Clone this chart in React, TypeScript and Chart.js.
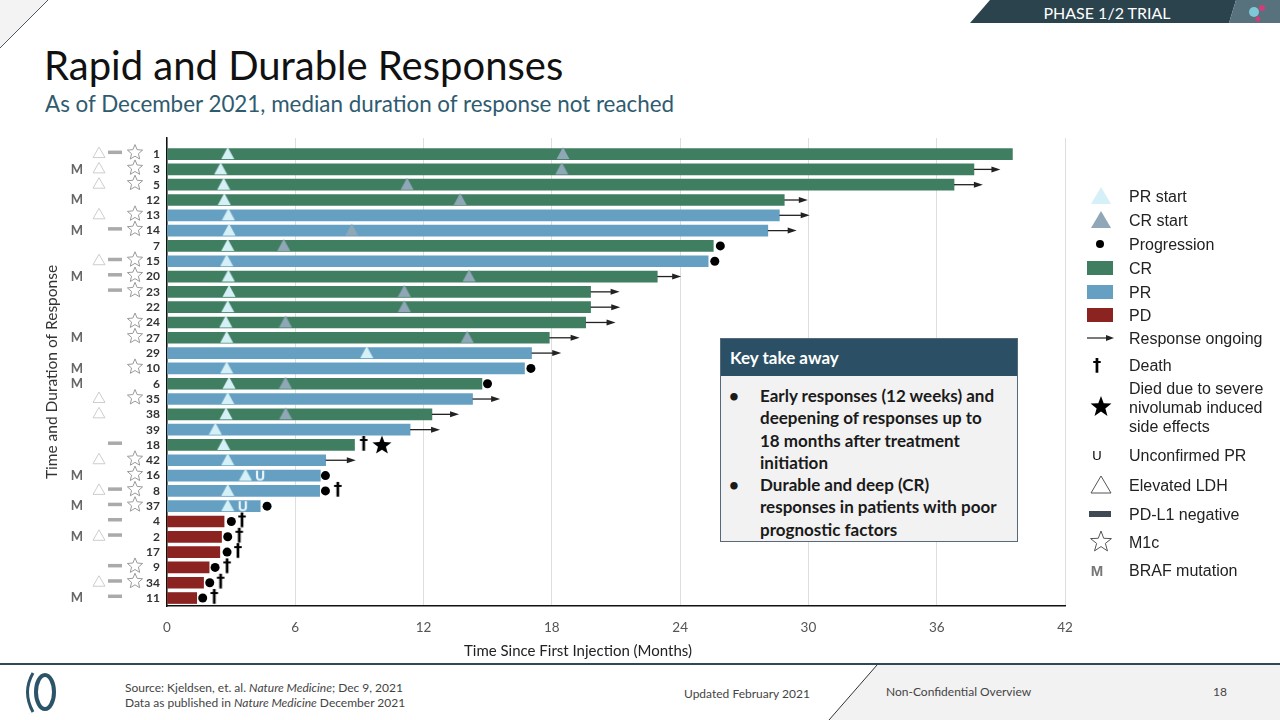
import React, { useEffect, useRef } from 'react';
import { Chart, registerables } from 'chart.js';

Chart.register(...registerables);

// ---------- data ----------
const patients = ['1', '3', '5', '12', '13', '14', '7', '15', '20', '23', '22', '24', '27', '29', '10', '6', '35', '38', '39', '18', '42', '16', '8', '37', '4', '2', '17', '9', '34', '11'];
const responseType = ['CR', 'CR', 'CR', 'CR', 'PR', 'PR', 'CR', 'PR', 'CR', 'CR', 'CR', 'CR', 'CR', 'PR', 'PR', 'CR', 'PR', 'CR', 'PR', 'CR', 'PR', 'PR', 'PR', 'PR', 'PD', 'PD', 'PD', 'PD', 'PD', 'PD'];
const duration = [39.54, 37.74, 36.81, 28.87, 28.64, 28.1, 25.55, 25.31, 22.93, 19.81, 19.81, 19.58, 17.88, 17.05, 16.72, 14.73, 14.29, 12.39, 11.37, 8.77, 7.42, 7.17, 7.14, 4.36, 2.67, 2.55, 2.47, 1.97, 1.71, 1.39];
const prStart = [2.84, 2.51, 2.65, 2.68, 2.87, 2.9, 2.84, 2.79, 2.87, 2.9, 2.84, 2.75, 2.79, 9.34, 2.79, 2.9, 2.84, 2.76, 2.26, 2.65, 2.84, 3.67, 2.84, 2.84, null, null, null, null, null, null];
const crStart = [18.52, 18.46, 11.23, 13.71, null, 8.64, 5.46, null, 14.13, 11.1, 11.1, 5.54, 14.04, null, null, 5.54, null, 5.55, null, null, null, null, null, null, null, null, null, null, null, null];
const progression = [null, null, null, null, null, null, 25.88, 25.62, null, null, null, null, null, null, 17.02, 14.99, null, null, null, null, null, 7.41, 7.41, 4.68, 3.01, 2.84, 2.81, 2.25, 2.0, 1.67];
const death = [null, null, null, null, null, null, null, null, null, null, null, null, null, null, null, null, null, null, null, 9.2, null, null, 7.99, null, 3.51, 3.38, 3.32, 2.81, 2.51, 2.21];
const sideEffectDeath = [null, null, null, null, null, null, null, null, null, null, null, null, null, null, null, null, null, null, null, 10.05, null, null, null, null, null, null, null, null, null, null];
const unconfirmedPR = [null, null, null, null, null, null, null, null, null, null, null, null, null, null, null, null, null, null, null, null, null, 4.35, null, 3.54, null, null, null, null, null, null];
const ongoingUntil = [null, 38.98, 38.16, 29.97, 30.06, 29.45, null, null, 24.05, 21.17, 21.2, 20.98, 19.3, 18.44, null, null, 15.58, 13.66, 12.77, null, 8.83, null, null, null, null, null, null, null, null, null];
const brafMutation = [0, 1, 0, 1, 0, 1, 0, 0, 1, 0, 0, 0, 1, 0, 1, 1, 0, 0, 0, 0, 0, 1, 0, 1, 0, 1, 0, 0, 0, 1];
const elevatedLDH = [1, 1, 1, 0, 1, 0, 0, 1, 0, 0, 0, 0, 0, 0, 0, 0, 1, 1, 0, 0, 1, 0, 1, 0, 0, 1, 0, 0, 1, 0];
const pdl1Negative = [1, 0, 0, 0, 0, 1, 0, 1, 1, 1, 0, 0, 0, 0, 0, 0, 0, 0, 0, 1, 0, 0, 1, 1, 1, 1, 0, 1, 1, 1];
const m1c = [1, 1, 1, 0, 1, 1, 0, 1, 1, 1, 0, 1, 1, 0, 1, 0, 1, 0, 0, 0, 1, 1, 1, 1, 0, 0, 0, 1, 1, 0];
const xTicks = [0, 6, 12, 18, 24, 30, 36, 42];

const typeColor: Record<string, string> = { CR: '#407e62', PR: '#65a0c3', PD: '#8b2420' };
const PR_TRI = '#d5f1f7';
const CR_TRI = '#8fa7b6';

const pts = (arr: (number | null)[]) =>
  arr.flatMap((v, i) => (v == null ? [] : [{ x: v, y: i }]));

function mk(w: number, h: number, draw: (g: CanvasRenderingContext2D) => void) {
  const c = document.createElement('canvas');
  c.width = w;
  c.height = h;
  const g = c.getContext('2d')!;
  draw(g);
  return c;
}

function starPath(g: CanvasRenderingContext2D, cx: number, cy: number, ro: number, ri: number) {
  g.beginPath();
  for (let k = 0; k < 10; k++) {
    const r = k % 2 === 0 ? ro : ri;
    const a = -Math.PI / 2 + (k * Math.PI) / 5;
    const px = cx + r * Math.cos(a);
    const py = cy + r * Math.sin(a);
    if (k === 0) g.moveTo(px, py);
    else g.lineTo(px, py);
  }
  g.closePath();
}

const annotationPlugin = {
  id: 'rowAnnotations',
  afterDraw(chart: any) {
    const { ctx, chartArea, scales } = chart;
    const x = scales.x;
    const y = scales.y;
    const left = chartArea.left;
    ctx.save();
    patients.forEach((_, i) => {
      const py = y.getPixelForValue(i);
      if (brafMutation[i]) {
        ctx.fillStyle = '#666';
        ctx.font = 'bold 13px Lato';
        ctx.textAlign = 'center';
        ctx.textBaseline = 'middle';
        ctx.fillText('M', left - 90, py);
      }
      if (elevatedLDH[i]) {
        const cx = left - 68;
        ctx.strokeStyle = '#cdcdcd';
        ctx.lineWidth = 1;
        ctx.beginPath();
        ctx.moveTo(cx, py - 7);
        ctx.lineTo(cx + 6, py + 3.5);
        ctx.lineTo(cx - 6, py + 3.5);
        ctx.closePath();
        ctx.stroke();
      }
      if (pdl1Negative[i]) {
        ctx.fillStyle = '#aaaaaa';
        ctx.fillRect(left - 59, py - 3.5, 14, 3.5);
      }
      if (m1c[i]) {
        ctx.strokeStyle = '#9a9a9a';
        ctx.lineWidth = 1;
        starPath(ctx, left - 32, py - 1.5, 8, 3.6);
        ctx.stroke();
      }
    });
    // response ongoing arrows
    ctx.strokeStyle = '#222';
    ctx.fillStyle = '#222';
    ctx.lineWidth = 1.3;
    ongoingUntil.forEach((end, i) => {
      if (end == null) return;
      const py = y.getPixelForValue(i);
      const x0 = x.getPixelForValue(duration[i]);
      const x1 = x.getPixelForValue(end);
      ctx.beginPath();
      ctx.moveTo(x0, py);
      ctx.lineTo(x1 - 4, py);
      ctx.stroke();
      ctx.beginPath();
      ctx.moveTo(x1, py);
      ctx.lineTo(x1 - 9, py - 3);
      ctx.lineTo(x1 - 9, py + 3);
      ctx.closePath();
      ctx.fill();
    });
    ctx.restore();
  },
};

function Tri({ fill, stroke }: { fill: string; stroke?: string }) {
  return (
    <svg width={30} height={22}>
      <polygon points="15,2 25,19 5,19" fill={fill} stroke={stroke || 'none'} strokeWidth={1} />
    </svg>
  );
}

function StarIcon({ filled }: { filled: boolean }) {
  const p: string[] = [];
  for (let k = 0; k < 10; k++) {
    const r = k % 2 === 0 ? 11 : 4.6;
    const a = -Math.PI / 2 + (k * Math.PI) / 5;
    p.push(`${(15 + r * Math.cos(a)).toFixed(2)},${(12 + r * Math.sin(a)).toFixed(2)}`);
  }
  return (
    <svg width={30} height={24}>
      <polygon points={p.join(' ')} fill={filled ? '#000' : 'none'} stroke={filled ? 'none' : '#555'} strokeWidth={1} />
    </svg>
  );
}

const legendRows: { y: number; icon: React.ReactNode; text: React.ReactNode }[] = [
  { y: 196, icon: <Tri fill={PR_TRI} />, text: 'PR start' },
  { y: 220, icon: <Tri fill={CR_TRI} />, text: 'CR start' },
  { y: 244, icon: <svg width={30} height={20}><circle cx={14} cy={10} r={4} fill="#000" /></svg>, text: 'Progression' },
  { y: 268, icon: <svg width={30} height={20}><rect x={1} y={3} width={26} height={14} fill={typeColor.CR} /></svg>, text: 'CR' },
  { y: 292, icon: <svg width={30} height={20}><rect x={1} y={3} width={26} height={14} fill={typeColor.PR} /></svg>, text: 'PR' },
  { y: 315, icon: <svg width={30} height={20}><rect x={1} y={3} width={26} height={14} fill={typeColor.PD} /></svg>, text: 'PD' },
  { y: 338, icon: <svg width={30} height={20}><line x1={1} y1={10} x2={22} y2={10} stroke="#222" strokeWidth={1.2} /><polygon points="28,10 20,7 20,13" fill="#222" /></svg>, text: 'Response ongoing' },
  { y: 365, icon: <div style={{ width: 30, textAlign: 'center', fontWeight: 700, fontSize: 17, fontFamily: 'DejaVu Sans', color: '#000', marginLeft: -4 }}>†</div>, text: 'Death' },
  { y: 407, icon: <StarIcon filled />, text: <span>Died due to severe<br />nivolumab induced<br />side effects</span> },
  { y: 455, icon: <div style={{ width: 30, textAlign: 'center', fontSize: 13, fontFamily: '"Liberation Sans"', color: '#000', marginLeft: -4 }}>U</div>, text: 'Unconfirmed PR' },
  { y: 485, icon: <Tri fill="none" stroke="#555" />, text: 'Elevated LDH' },
  { y: 514, icon: <svg width={30} height={20}><rect x={3} y={7} width={22} height={6} fill="#3f4a55" /></svg>, text: 'PD-L1 negative' },
  { y: 542, icon: <StarIcon filled={false} />, text: 'M1c' },
  { y: 570, icon: <div style={{ width: 30, textAlign: 'center', fontSize: 15, fontWeight: 700, fontFamily: '"Liberation Sans"', color: '#777', marginLeft: -4 }}>M</div>, text: 'BRAF mutation' },
];

export default function App() {
  const ref = useRef<HTMLCanvasElement>(null);

  useEffect(() => {
    const canvas = ref.current;
    if (!canvas) return;
    const triangle = (fill: string) =>
      mk(14, 24, (g) => {
        g.fillStyle = fill;
        g.beginPath();
        g.moveTo(7, 5);
        g.lineTo(13.5, 17);
        g.lineTo(0.5, 17);
        g.closePath();
        g.fill();
      });
    const prTri = triangle(PR_TRI);
    const crTri = triangle(CR_TRI);
    const dagger = mk(14, 24, (g) => {
      g.fillStyle = '#000';
      g.font = 'bold 17px "DejaVu Sans"';
      g.textAlign = 'center';
      g.textBaseline = 'middle';
      g.fillText('†', 7, 12);
    });
    const blackStar = mk(24, 24, (g) => {
      g.fillStyle = '#000';
      starPath(g, 12, 12.5, 10, 4.2);
      g.fill();
    });
    const uMark = mk(14, 18, (g) => {
      g.fillStyle = '#e9f6fa';
      g.font = 'bold 14px "Open Sans"';
      g.textAlign = 'center';
      g.textBaseline = 'middle';
      g.fillText('U', 7, 10);
    });

    const chart = new Chart(canvas, {
      type: 'bar',
      data: {
        datasets: [
          {
            type: 'bar',
            label: 'Duration',
            indexAxis: 'y',
            data: duration.map((d, i) => ({ x: d, y: i })),
            backgroundColor: responseType.map((t) => typeColor[t]),
            barThickness: 11,
            order: 2,
          } as any,
          { type: 'scatter', label: 'PR start', data: pts(prStart), pointStyle: prTri, pointRadius: 6, order: 1 } as any,
          { type: 'scatter', label: 'CR start', data: pts(crStart), pointStyle: crTri, pointRadius: 6, order: 1 } as any,
          { type: 'scatter', label: 'Unconfirmed PR', data: pts(unconfirmedPR), pointStyle: uMark, pointRadius: 6, order: 0 } as any,
          { type: 'scatter', label: 'Progression', data: pts(progression), pointStyle: 'circle', pointRadius: 4.5, backgroundColor: '#000', borderColor: '#000', borderWidth: 0, order: 0 } as any,
          { type: 'scatter', label: 'Death', data: pts(death), pointStyle: dagger, pointRadius: 6, order: 0 } as any,
          { type: 'scatter', label: 'Died due to severe nivolumab induced side effects', data: pts(sideEffectDeath), pointStyle: blackStar, pointRadius: 8, order: 0 } as any,
        ],
      },
      options: {
        animation: false,
        responsive: false,
        layout: { padding: { top: 20, right: 22, bottom: 18, left: 0 } },
        plugins: { legend: { display: false }, tooltip: { enabled: false } },
        scales: {
          x: {
            type: 'linear',
            offset: false,
            min: 0,
            max: 42,
            afterBuildTicks: (s: any) => {
              s.ticks = xTicks.map((v) => ({ value: v }));
            },
            afterFit: (s: any) => {
              s.height = 34;
            },
            ticks: { color: '#555', font: { family: 'Lato', size: 13.5 }, padding: 14 },
            grid: { color: '#dedede', drawTicks: false, offset: false },
            border: { display: true, color: '#111', width: 1.5 },
          },
          y: {
            type: 'linear',
            offset: false,
            reverse: true,
            min: -1.05,
            max: 29.52,
            afterBuildTicks: (s: any) => {
              s.ticks = patients.map((_, i) => ({ value: i }));
            },
            afterFit: (s: any) => {
              s.width = 129;
            },
            ticks: {
              autoSkip: false,
              callback: (v: any) => patients[v as number] ?? '',
              color: '#333',
              font: { family: 'Lato', size: 12, weight: 'bold' },
              padding: 7,
            },
            grid: { display: false, drawTicks: false, offset: false },
            border: { display: true, color: '#111', width: 1.5 },
            title: {
              display: true,
              text: 'Time and Duration of Response',
              color: '#333',
              font: { family: 'Lato', size: 15.5 },
              padding: { top: 5, bottom: 0 },
            },
          },
        },
      } as any,
      plugins: [annotationPlugin as any],
    });
    return () => chart.destroy();
  }, []);

  const foot: React.CSSProperties = { position: 'absolute', fontSize: 12, color: '#444', whiteSpace: 'nowrap' };

  return (
    <div style={{ position: 'fixed', left: 0, top: 0, width: 1280, height: 720, background: '#fff', overflow: 'hidden', fontFamily: 'Lato, sans-serif' }}>
      {/* decorative corners */}
      <svg style={{ position: 'absolute', left: 0, top: 0 }} width={1280} height={720}>
        <polygon points="0,0 48,0 0,48" fill="#f3f3f3" />
        <line x1={48} y1={0} x2={0} y2={48} stroke="#4d5b63" strokeWidth={1} />
        <polygon points="990,0 1236,0 1229,23 970,23" fill="#2b434d" />
        <polygon points="1236,0 1280,0 1280,23 1229,23" fill="#58727d" />
        <circle cx={1254} cy={12} r={5} fill="#7fc6d6" />
        <circle cx={1262} cy={8} r={3} fill="#d23c78" />
        <circle cx={1258} cy={19} r={2.5} fill="#d23c78" />
        <line x1={0} y1={664} x2={1280} y2={664} stroke="#2c4b5a" strokeWidth={2} />
        <polygon points="877,665 1280,665 1280,720 829,720" fill="#f2f2f2" />
        <line x1={877} y1={665} x2={829} y2={720} stroke="#333" strokeWidth={1} />
        <path d="M33,673 Q22,692 33,712" fill="none" stroke="#2c5468" strokeWidth={3} />
        <ellipse cx={45} cy={692} rx={9} ry={17} fill="none" stroke="#2c5468" strokeWidth={4} />
      </svg>
      <div style={{ position: 'absolute', left: 1007, top: 3, width: 200, textAlign: 'center', color: '#fff', fontSize: 16 }}>PHASE 1/2 TRIAL</div>

      <div style={{ position: 'absolute', left: 44, top: 41, fontSize: 40, color: '#111', whiteSpace: 'nowrap' }}>Rapid and Durable Responses</div>
      <div style={{ position: 'absolute', left: 45, top: 90, fontSize: 22.4, color: '#2f5b70', whiteSpace: 'nowrap' }}>As of December 2021, median duration of response not reached</div>

      <div style={{ position: 'absolute', left: 38, top: 118, width: 1049, height: 540 }}>
        <canvas ref={ref} width={1049} height={540} />
      </div>
      <div style={{ position: 'absolute', left: 464, top: 641, fontSize: 15, color: '#222', whiteSpace: 'nowrap' }}>Time Since First Injection (Months)</div>

      {/* key take away */}
      <div style={{ position: 'absolute', left: 720, top: 338, width: 296, height: 202, border: '1px solid #55697a', background: '#f2f2f2' }}>
        <div style={{ height: 37, background: '#2b5066', color: '#fff', fontSize: 17, fontWeight: 700, lineHeight: '37px', paddingLeft: 9 }}>Key take away</div>
        <div style={{ paddingTop: 9, fontSize: 17, fontWeight: 700, color: '#1a1a1a', lineHeight: '22.3px' }}>
          <div style={{ display: 'flex' }}>
            <div style={{ width: 31, paddingLeft: 8 }}>•</div>
            <div style={{ whiteSpace: 'nowrap' }}>Early responses (12 weeks) and<br />deepening of responses up to<br />18 months after treatment<br />initiation</div>
          </div>
          <div style={{ display: 'flex' }}>
            <div style={{ width: 31, paddingLeft: 8 }}>•</div>
            <div style={{ whiteSpace: 'nowrap' }}>Durable and deep (CR)<br />responses in patients with poor<br />prognostic factors</div>
          </div>
        </div>
      </div>

      {/* legend */}
      {legendRows.map((r, i) => (
        <div key={i} style={{ position: 'absolute', left: 1086, top: r.y - 40, height: 80, display: 'flex', alignItems: 'center' }}>
          <div style={{ width: 43, display: 'flex', alignItems: 'center' }}>{r.icon}</div>
          <div style={{ fontFamily: '"Liberation Sans", Arial, sans-serif', fontSize: 16, color: '#222', lineHeight: '19px', whiteSpace: 'nowrap' }}>{r.text}</div>
        </div>
      ))}

      {/* footer */}
      <div style={{ ...foot, left: 125, top: 680 }}>Source: Kjeldsen, et. al. <i>Nature Medicine</i>; Dec 9, 2021</div>
      <div style={{ ...foot, left: 125, top: 695 }}>Data as published in <i>Nature Medicine</i> December 2021</div>
      <div style={{ ...foot, left: 684, top: 686 }}>Updated February 2021</div>
      <div style={{ ...foot, left: 886, top: 684 }}>Non-Confidential Overview</div>
      <div style={{ ...foot, left: 1213, top: 684 }}>18</div>
    </div>
  );
}
